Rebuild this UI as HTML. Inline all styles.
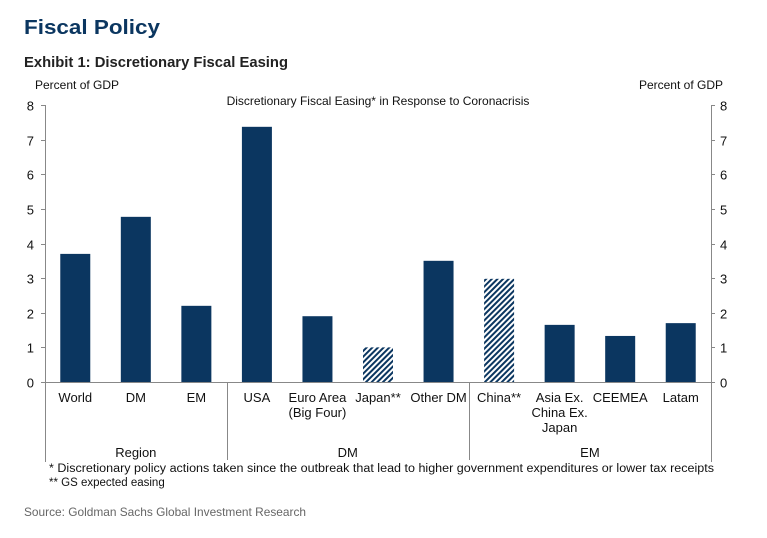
<!DOCTYPE html>
<html><head><meta charset="utf-8"><style>
body{margin:0;background:#fff;font-family:"Liberation Sans",Arial,sans-serif;}
svg text{font-family:"Liberation Sans",Arial,sans-serif;}
</style></head><body>
<svg width="767" height="533" viewBox="0 0 767 533" xmlns="http://www.w3.org/2000/svg">
<defs><pattern id="hatch" width="4" height="4" patternUnits="userSpaceOnUse" patternTransform="rotate(45)"><rect width="4" height="4" fill="#fff"/><rect width="2" height="4" fill="#0b3660"/></pattern></defs>
<text x="24" y="34" font-size="20" font-weight="bold" fill="#0b3660" textLength="136" lengthAdjust="spacingAndGlyphs">Fiscal Policy</text>
<text x="24" y="67" font-size="15" font-weight="bold" fill="#222" textLength="264" lengthAdjust="spacingAndGlyphs">Exhibit 1: Discretionary Fiscal Easing</text>
<text x="35" y="89" font-size="12" fill="#111">Percent of GDP</text>
<text x="723" y="89" font-size="12" fill="#111" text-anchor="end">Percent of GDP</text>
<text x="378" y="105" font-size="12" fill="#111" text-anchor="middle">Discretionary Fiscal Easing* in Response to Coronacrisis</text>
<g id="axes"></g><g id="bars"></g><g id="labels"></g>
<text x="49" y="472" font-size="11.5" fill="#111" textLength="665" lengthAdjust="spacingAndGlyphs">* Discretionary policy actions taken since the outbreak that lead to higher government expenditures or lower tax receipts</text>
<text x="49" y="486" font-size="11.5" fill="#111">** GS expected easing</text>
<text x="24" y="516" font-size="12" fill="#666" textLength="282" lengthAdjust="spacingAndGlyphs">Source: Goldman Sachs Global Investment Research</text>
</svg>
<script>
const categories=[["World"],["DM"],["EM"],["USA"],["Euro Area","(Big Four)"],["Japan**"],["Other DM"],["China**"],["Asia Ex.","China Ex.","Japan"],["CEEMEA"],["Latam"]];
const values=[3.7,4.77,2.2,7.37,1.9,1.0,3.5,2.98,1.65,1.33,1.7];
const hatched=[false,false,false,false,false,true,false,true,false,false,false];
const groups=["Region","DM","EM"];
const groupSpans=[[0,3],[3,7],[7,11]];
const ticks=[0,1,2,3,4,5,6,7,8];
const NS="http://www.w3.org/2000/svg";
const L=45,R=711,Y0=382,Y8=105,band=(R-L)/categories.length;
const y=v=>Y0-(Y0-Y8)*v/8;
const x=i=>L+band*i;
function mk(t,a,p){const e=document.createElementNS(NS,t);for(const k in a)e.setAttribute(k,a[k]);p.appendChild(e);return e;}
const ax=document.getElementById('axes'),bg=document.getElementById('bars'),lg=document.getElementById('labels');
const st={stroke:"#888","stroke-width":1};
let e=mk('line',Object.assign({x1:L+.5,y1:Y8,x2:L+.5,y2:462},st),ax);


e=mk('line',Object.assign({x1:R+.5,y1:Y8,x2:R+.5,y2:462},st),ax);


e=mk('line',Object.assign({x1:L,y1:Y0+.5,x2:R,y2:Y0+.5},st),ax);


ticks.forEach(t=>{
 const yy=Math.round(y(t))+.5;
 mk('line',Object.assign({x1:L-4,y1:yy,x2:L,y2:yy},st),ax);
 mk('line',Object.assign({x1:R,y1:yy,x2:R+4,y2:yy},st),ax);
 let a=mk('text',{x:L-11,y:yy+5,"font-size":13,"text-anchor":"end",fill:"#111"},ax);a.textContent=t;
 
 
 let b=mk('text',{x:R+9,y:yy+5,"font-size":13,fill:"#111"},ax);b.textContent=t;
 
 
});
values.forEach((v,i)=>{
 const r=mk('rect',{x:x(i)+band/2-15,y:y(v),width:30,height:Y0-y(v),fill:hatched[i]?"url(#hatch)":"#0b3660"},bg);
 
 
 const t=mk('text',{x:x(i)+band/2,y:402,"font-size":13,"text-anchor":"middle",fill:"#111"},lg);
 
 
 categories[i].forEach((s,k)=>{const ts=mk('tspan',{x:x(i)+band/2,dy:k?15:0},t);ts.textContent=s;});
});
groupSpans.forEach((g,i)=>{
 if(i>0){const l=mk('line',Object.assign({x1:Math.round(x(g[0]))+.5,y1:Y0,x2:Math.round(x(g[0]))+.5,y2:460},st),ax);
 
 }
 const t=mk('text',{x:(x(g[0])+x(g[1]))/2,y:457,"font-size":13,"text-anchor":"middle",fill:"#111"},lg);
 t.textContent=groups[i];
 
 
});
</script>
</body></html>
